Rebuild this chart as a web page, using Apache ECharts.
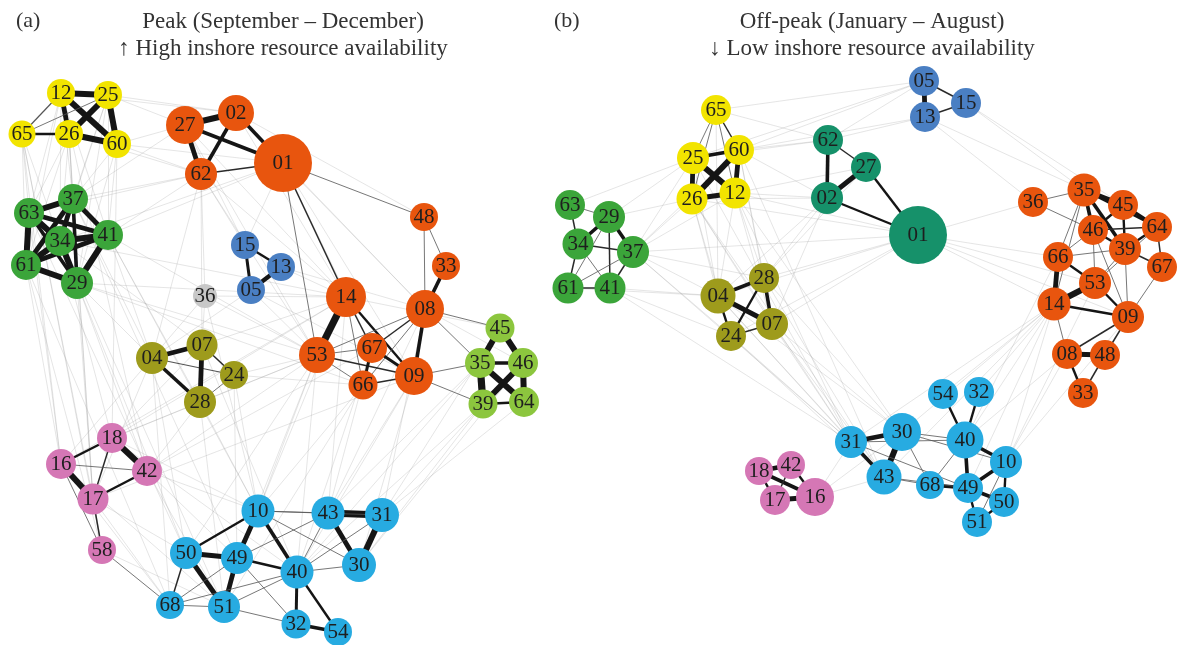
<!DOCTYPE html>
<html>
<head>
<meta charset="utf-8">
<script src="https://cdn.jsdelivr.net/npm/echarts@6/dist/echarts.min.js"></script>
<style>
  html, body { margin: 0; padding: 0; background: #fff; }
  #chart { width: 1177px; height: 645px; }
</style>
</head>
<body>
<div id="chart"></div>
<script>
// Community colours
const groupColors = {
  orange: '#e8550e', yellow: '#f2e400', green: '#3ba53a', blue: '#4a7fc3',
  grey: '#c8c8c8', olive: '#9e9b1c', lime: '#8cc63e', pink: '#d577b5',
  cyan: '#27abe1', teal: '#16916a'
};

const panelTags = ['(a)', '(b)'];
const panelTitles = [
  ['Peak (September \u2013 December)', '\u2191 High inshore resource availability'],
  ['Off-peak (January \u2013 August)', '\u2193 Low inshore resource availability']
];

// Nodes: [id, layoutX, layoutY, node strength (diameter), community]
const peakNodes = [
  ['12', 61, 93, 28, 'yellow'], ['25', 108, 95, 28, 'yellow'], ['65', 22, 134, 27, 'yellow'],
  ['26', 69, 134, 28, 'yellow'], ['60', 117, 144, 28, 'yellow'],
  ['27', 185, 125, 38, 'orange'], ['02', 236, 113, 36, 'orange'], ['62', 201, 174, 32, 'orange'],
  ['01', 283, 163, 58, 'orange'],
  ['37', 73, 199, 30, 'green'], ['63', 29, 213, 30, 'green'], ['34', 60, 241, 30, 'green'],
  ['41', 108, 235, 30, 'green'], ['61', 26, 265, 30, 'green'], ['29', 77, 283, 32, 'green'],
  ['15', 245, 245, 28, 'blue'], ['13', 281, 267, 28, 'blue'], ['05', 251, 290, 28, 'blue'],
  ['36', 205, 296, 24, 'grey'],
  ['48', 424, 217, 28, 'orange'], ['33', 446, 266, 28, 'orange'], ['14', 346, 297, 40, 'orange'],
  ['08', 425, 309, 38, 'orange'], ['53', 317, 355, 36, 'orange'], ['67', 372, 348, 30, 'orange'],
  ['66', 363, 385, 29, 'orange'], ['09', 414, 376, 38, 'orange'],
  ['45', 500, 328, 29, 'lime'], ['35', 480, 363, 30, 'lime'], ['46', 523, 363, 30, 'lime'],
  ['39', 483, 404, 29, 'lime'], ['64', 524, 402, 30, 'lime'],
  ['04', 152, 358, 32, 'olive'], ['07', 202, 345, 31, 'olive'], ['24', 234, 375, 28, 'olive'],
  ['28', 200, 402, 32, 'olive'],
  ['18', 112, 438, 30, 'pink'], ['16', 61, 464, 30, 'pink'], ['42', 147, 471, 30, 'pink'],
  ['17', 93, 499, 31, 'pink'], ['58', 102, 550, 28, 'pink'],
  ['10', 258, 511, 33, 'cyan'], ['43', 328, 513, 33, 'cyan'], ['31', 382, 515, 34, 'cyan'],
  ['50', 186, 553, 32, 'cyan'], ['49', 237, 558, 32, 'cyan'], ['40', 297, 572, 33, 'cyan'],
  ['30', 359, 565, 34, 'cyan'], ['68', 170, 605, 28, 'cyan'], ['51', 224, 607, 32, 'cyan'],
  ['32', 296, 624, 29, 'cyan'], ['54', 338, 632, 28, 'cyan']
];

const offPeakNodes = [
  ['05', 924, 81, 30, 'blue'], ['15', 966, 103, 30, 'blue'], ['13', 925, 117, 30, 'blue'],
  ['65', 716, 110, 30, 'yellow'], ['60', 739, 150, 30, 'yellow'], ['25', 693, 158, 32, 'yellow'],
  ['26', 692, 199, 31, 'yellow'], ['12', 735, 193, 31, 'yellow'],
  ['62', 828, 140, 30, 'teal'], ['27', 866, 167, 30, 'teal'], ['02', 827, 198, 32, 'teal'],
  ['01', 918, 235, 58, 'teal'],
  ['63', 570, 205, 30, 'green'], ['29', 609, 217, 32, 'green'], ['34', 578, 244, 31, 'green'],
  ['37', 633, 252, 32, 'green'], ['61', 568, 288, 31, 'green'], ['41', 610, 288, 31, 'green'],
  ['04', 718, 296, 35, 'olive'], ['28', 764, 278, 30, 'olive'], ['07', 772, 324, 32, 'olive'],
  ['24', 731, 336, 30, 'olive'],
  ['36', 1033, 202, 30, 'orange'], ['35', 1084, 190, 33, 'orange'], ['45', 1123, 205, 30, 'orange'],
  ['46', 1093, 230, 30, 'orange'], ['64', 1157, 227, 30, 'orange'], ['39', 1125, 249, 32, 'orange'],
  ['66', 1058, 257, 30, 'orange'], ['67', 1162, 267, 30, 'orange'], ['53', 1095, 283, 32, 'orange'],
  ['14', 1054, 304, 33, 'orange'], ['09', 1128, 317, 32, 'orange'], ['08', 1067, 354, 30, 'orange'],
  ['48', 1105, 355, 30, 'orange'], ['33', 1083, 393, 30, 'orange'],
  ['54', 943, 394, 30, 'cyan'], ['32', 979, 392, 30, 'cyan'], ['31', 851, 442, 32, 'cyan'],
  ['30', 902, 432, 38, 'cyan'], ['40', 965, 440, 37, 'cyan'], ['10', 1006, 462, 32, 'cyan'],
  ['43', 884, 477, 35, 'cyan'], ['68', 930, 485, 28, 'cyan'], ['49', 968, 488, 30, 'cyan'],
  ['50', 1004, 502, 30, 'cyan'], ['51', 977, 522, 30, 'cyan'],
  ['18', 759, 471, 28, 'pink'], ['42', 791, 465, 28, 'pink'], ['17', 775, 500, 30, 'pink'],
  ['16', 815, 497, 38, 'pink']
];

// Association strengths: [source, target, weight]
const peakStrongLinks = [
  ['12','25',5],['12','26',4],['12','60',5],['25','26',5],['25','60',5],['26','60',5],
  ['65','26',2],['65','12',1.2],['65','25',1],
  ['27','02',5],['27','62',4],['02','62',3],['27','01',3],['02','01',3],['62','01',1.5],
  ['01','14',1.5],['01','53',1],['01','48',1],
  ['37','63',5],['37','34',4],['37','41',4],['37','61',4],['37','29',3],['63','34',5],['63','41',4],
  ['63','61',5],['63','29',3],['34','41',5],['34','61',5],['34','29',5],['41','61',4],['41','29',5],['61','29',5],
  ['15','13',2],['15','05',2.5],['13','05',3.5],
  ['48','33',1],['48','08',1],['33','08',3],['14','53',6],['14','67',1.5],['14','66',1],['14','09',2],
  ['08','67',1.5],['08','09',3],['08','53',1],['08','66',1],['53','67',1],['53','66',1],['53','09',1.5],
  ['67','66',2.5],['67','09',2.5],['66','09',1.5],['08','45',1],['08','35',1],['09','35',1],['09','39',1],
  ['45','35',5],['45','46',5],['35','46',3],['35','39',6],['35','64',5],['46','39',5],['46','64',5],['39','64',2],
  ['04','07',4],['04','28',3],['04','24',1.2],['07','28',4],['07','24',1.5],['24','28',1],
  ['18','42',5],['18','16',2],['18','17',1.5],['16','42',1],['16','17',5],['17','42',2],['17','58',1.5],
  ['16','58',1],['58','68',1],
  ['43','31',6],['43','30',4],['31','30',5],['10','43',1],['10','50',2],['10','49',4],['10','40',3],
  ['10','30',1],['50','49',4],['50','51',4],['50','68',1.5],['49','51',4],['49','40',2],['49','68',1],
  ['68','51',1],['40','32',2.5],['40','54',2],['32','54',3],['51','32',1],['40','43',1],['40','30',1],
  ['40','31',1],['43','49',1],['51','40',1],['10','31',1],['49','32',1],['68','40',1]
];

const peakWeakLinks = [
  ['12','37'],['12','63'],['12','34'],['12','61'],['25','37'],['25','41'],['25','34'],['26','37'],
  ['26','63'],['26','34'],['26','61'],['26','29'],['60','41'],['60','37'],['60','29'],['65','63'],
  ['65','61'],['65','34'],['25','29'],['12','41'],
  ['25','27'],['25','02'],['60','62'],['26','62'],['60','27'],['12','02'],['60','01'],
  ['37','62'],['41','62'],['41','01'],['34','01'],['37','27'],['63','62'],['29','14'],['41','53'],
  ['34','14'],['29','53'],['61','66'],
  ['61','16'],['29','17'],['63','16'],['61','58'],['34','18'],['29','42'],['37','17'],
  ['41','04'],['29','04'],['34','07'],['41','28'],['37','04'],
  ['65','16'],['65','17'],['65','58'],['26','17'],['12','42'],['60','18'],
  ['29','50'],['61','68'],['41','10'],['37','49'],['63','50'],['34','51'],
  ['01','08'],['01','09'],['01','67'],['62','14'],['62','53'],['27','53'],['02','48'],['02','08'],
  ['27','14'],['02','14'],
  ['36','53'],['36','14'],['36','62'],['36','04'],['36','07'],['36','10'],
  ['15','62'],['13','14'],['05','53'],['05','09'],['15','01'],['13','08'],['05','04'],['15','27'],
  ['53','10'],['53','40'],['53','49'],['14','43'],['09','43'],['09','30'],['09','40'],['66','10'],
  ['67','40'],['08','31'],['53','50'],['66','51'],['14','10'],['67','43'],['08','43'],
  ['39','30'],['39','31'],['35','43'],['64','31'],['39','40'],['45','31'],['46','30'],['35','40'],
  ['53','42'],['53','18'],['14','16'],['67','42'],['14','18'],['09','17'],
  ['28','18'],['04','16'],['28','42'],['04','17'],['07','18'],
  ['28','10'],['24','49'],['04','50'],['28','51'],['07','40'],['24','10'],['04','68'],
  ['24','53'],['07','14'],['24','66'],['28','53'],['07','62'],['04','62'],
  ['42','10'],['42','49'],['17','50'],['16','68'],['18','40'],['42','51'],['17','68'],['18','10'],
  ['16','51'],['58','51'],['45','14'],['46','08']
];

const offPeakStrongLinks = [
  ['05','13',4],['05','15',1.5],['13','15',1.5],
  ['65','25',1],['65','60',1.5],['65','26',1],['65','12',1],['25','60',3],['25','26',4],['25','12',5],
  ['60','12',4],['60','26',5],['26','12',4],
  ['62','02',3],['62','27',1.5],['02','27',4],['02','01',2],['27','01',2],
  ['63','29',1],['63','34',1.5],['29','34',3],['29','37',3],['29','41',1.5],['34','37',1.5],['34','61',1.5],
  ['34','41',1],['37','41',1.5],['61','41',1.5],['61','37',1],['61','29',1],
  ['04','28',3],['04','07',4],['04','24',2],['28','07',3],['28','24',2],['24','07',1.5],
  ['36','35',1],['36','46',1],['35','45',4],['35','46',3],['35','39',3],['35','64',2],['45','46',2],
  ['45','64',3],['45','39',2],['46','39',2],['46','64',1.5],['64','39',2],['64','67',1.5],['39','67',1.5],
  ['66','14',4],['66','53',2],['66','46',1],['14','53',5],['14','09',2],['53','09',2],['14','08',1],
  ['09','08',1.5],['09','48',1.5],['08','48',4],['08','33',2],['48','33',1.5],['39','09',1],['67','09',1],
  ['53','39',1],['66','35',1],['66','39',1],['14','35',1],['53','46',1],['46','09',1],['64','53',1],
  ['31','30',4],['31','43',3],['30','43',5],['30','40',1],['31','40',1],['40','54',2],['40','32',2],
  ['40','10',3],['40','49',3],['40','68',1],['49','68',3],['49','10',3],['49','50',3],['49','51',2],
  ['10','50',2],['50','51',2],['10','51',1],['43','68',1],['43','49',1],['31','49',1],['30','68',1],['30','10',1],
  ['18','42',4],['18','17',2],['18','16',3],['42','16',2],['42','17',1.5],['17','16',4]
];

const offPeakWeakLinks = [
  ['16','31'],['16','43'],['16','30'],['04','31'],['04','30'],['07','31'],['07','43'],['24','31'],
  ['28','30'],['12','30'],['26','43'],['37','31'],['41','31'],['04','43'],['07','30'],['24','43'],
  ['28','43'],['12','31'],['60','43'],['25','31'],['26','31'],
  ['01','36'],['01','14'],['01','66'],['01','53'],['01','09'],['01','04'],['01','24'],['01','07'],
  ['01','37'],['01','26'],['01','12'],['01','28'],
  ['02','12'],['02','60'],['62','60'],['62','25'],['27','12'],['02','26'],['02','04'],['62','65'],
  ['05','65'],['05','25'],['05','60'],['13','60'],['13','62'],['13','35'],['15','35'],['13','36'],
  ['05','62'],['15','45'],
  ['14','10'],['14','40'],['14','32'],['14','54'],['14','49'],['53','10'],['09','10'],['14','30'],
  ['08','10'],['14','43'],['14','31'],['08','40'],['66','40'],
  ['25','29'],['25','37'],['26','29'],['26','37'],['12','37'],['60','37'],['25','63'],
  ['41','04'],['37','04'],['61','04'],['37','28'],
  ['26','04'],['12','04'],['12','28'],['25','04'],['26','24'],['60','28'],['12','07'],['26','07'],
  ['65','04'],['60','07'],['02','28'],['02','07'],['27','28'],['37','24'],['41','24']
];

function buildNodes(nodes) {
  return nodes.map(function (n) {
    return {
      name: n[0],
      value: [n[1], n[2]],
      symbolSize: n[3],
      itemStyle: { color: groupColors[n[4]] }
    };
  });
}

function buildLinks(strong, weak) {
  const faint = weak.map(function (l) {
    return {
      source: l[0], target: l[1],
      lineStyle: { width: 0.8, color: '#9a9a9a', opacity: 0.33 }
    };
  });
  const firm = strong.map(function (l) {
    const w = l[2];
    return {
      source: l[0], target: l[1],
      lineStyle: {
        width: w >= 2 ? w * 1.2 : w,
        color: w >= 2 ? '#151515' : (w > 1 ? '#2a2a2a' : '#555'),
        opacity: w >= 1.5 ? 1 : 0.8
      }
    };
  });
  return faint.concat(firm);
}

const labelStyle = {
  show: true,
  position: 'inside',
  fontFamily: 'Liberation Serif',
  fontSize: 21,
  color: '#1e1e1e'
};

function graphSeries(nodes, strong, weak) {
  return {
    type: 'graph',
    coordinateSystem: 'cartesian2d',
    xAxisIndex: 0,
    yAxisIndex: 0,
    symbol: 'circle',
    silent: true,
    animation: false,
    label: labelStyle,
    lineStyle: { curveness: 0 },
    emphasis: { disabled: true },
    data: buildNodes(nodes),
    links: buildLinks(strong, weak)
  };
}

const titleFont = '23px "Liberation Serif"';
const tagFont = '22px "Liberation Serif"';
const panelCentres = [283, 872];
const tagX = [16, 554];

const graphics = [];
panelTags.forEach(function (t, i) {
  graphics.push({
    type: 'text', x: tagX[i], y: 10,
    style: { text: t, font: tagFont, fill: '#333' }
  });
  graphics.push({
    type: 'text', x: panelCentres[i], y: 8,
    style: {
      text: panelTitles[i].join('\n'), font: titleFont, fill: '#333',
      align: 'center', lineHeight: 27
    }
  });
});

const chart = echarts.init(document.getElementById('chart'), null, { renderer: 'canvas' });
chart.setOption({
  animation: false,
  backgroundColor: '#fff',
  grid: { left: 0, right: 0, top: 0, bottom: 0 },
  xAxis: { type: 'value', min: 0, max: 1177, show: false },
  yAxis: { type: 'value', min: 0, max: 645, inverse: true, show: false },
  graphic: graphics,
  series: [
    graphSeries(peakNodes, peakStrongLinks, peakWeakLinks),
    graphSeries(offPeakNodes, offPeakStrongLinks, offPeakWeakLinks)
  ]
});
</script>
</body>
</html>
